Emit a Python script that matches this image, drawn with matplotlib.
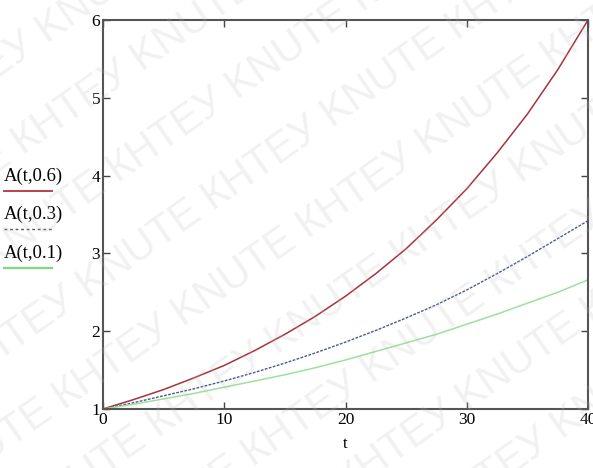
import matplotlib.pyplot as plt
from matplotlib.lines import Line2D

# values
t = [0, 2.5, 5, 7.5, 10, 12.5, 15, 17.5, 20, 22.5, 25, 27.5, 30, 32.5, 35, 37.5, 40]
a06 = [1.0, 1.12, 1.25, 1.40, 1.56, 1.75, 1.96, 2.19, 2.45, 2.74, 3.06, 3.43,
       3.83, 4.29, 4.79, 5.36, 6.0]
a03 = [1.0, 1.08, 1.17, 1.26, 1.36, 1.47, 1.59, 1.72, 1.86, 2.01, 2.17, 2.34,
       2.53, 2.74, 2.96, 3.19, 3.42]
a01 = [1.0, 1.06, 1.13, 1.20, 1.28, 1.36, 1.44, 1.53, 1.63, 1.74, 1.85, 1.96,
       2.09, 2.22, 2.36, 2.50, 2.66]
labels = ['A(t,0.6)', 'A(t,0.3)', 'A(t,0.1)']

serif = 'Liberation Serif'

fig = plt.figure(figsize=(5.93, 4.68), dpi=100)
ax = fig.add_axes([103/593, 1-409/468, (588-103)/593, (409-20)/468])

ax.plot(t, a06, color='#a8323c', lw=1.1)
ax.plot(t, a03, color='#4a5a8c', lw=1.0, ls=(0, (2, 1)))
ax.plot(t, a01, color='#9ee09e', lw=1.1)

ax.set_xlim(0, 40)
ax.set_ylim(1, 6)
ax.set_xticks([0, 10, 20, 30, 40])
ax.set_yticks([1, 2, 3, 4, 5, 6])
ax.tick_params(direction='in', length=5, width=1, color='#444444',
               top=True, right=True, labelsize=12.5, pad=2)
for lab in ax.get_xticklabels() + ax.get_yticklabels():
    lab.set_family(serif)
for s in ax.spines.values():
    s.set_color('#555555')
    s.set_linewidth(1.5)
ax.set_xlabel('t', family=serif, fontsize=12, labelpad=6)

# mathcad-style legend on the left: name above the line sample
styles = [dict(color='#c0404c', lw=1.4),
          dict(color='#555555', lw=1.0, ls=(0, (2, 2))),
          dict(color='#80d880', lw=1.6)]
ys = [176, 214, 253]
for lab, st, y in zip(labels, styles, ys):
    fig.text(4/593, 1-y/468, lab, family=serif, fontsize=13.5, va='center', ha='left')
    ln = 1 - (y+15)/468
    fig.add_artist(Line2D([4/593, 52/593], [ln, ln], **st))

# faint diagonal watermark
wm = 'КНТЕУ KNUTE КНТЕУ KNUTE КНТЕУ KNUTE КНТЕУ KNUTE'
for k in range(-6, 9):
    fig.text(0.5 + k*0.16, 0.5 - k*0.06, wm, rotation=35, rotation_mode='anchor',
             ha='center', va='center', fontsize=30, color='#bbbbbb', alpha=0.2,
             family='Liberation Sans', zorder=10)

fig.savefig('out.png', dpi=100)
